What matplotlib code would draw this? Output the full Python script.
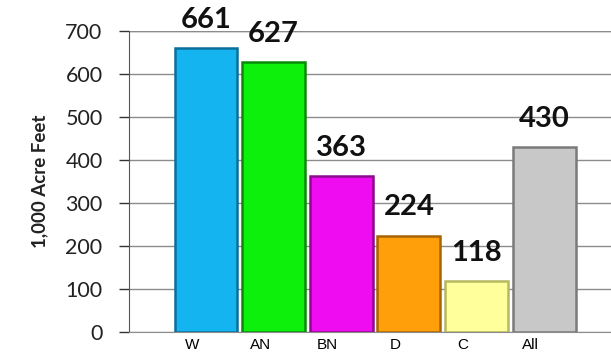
import numpy as np
import matplotlib.pyplot as plt

# Average annual volume by water year type
categories = ['W', 'AN', 'BN', 'D', 'C', 'All']
volumes = [661, 627, 363, 224, 118, 430]
bar_colors = ['#14b4f0', '#0cf00c', '#f00cf0', '#ffa00a', '#ffff9c', '#c8c8c8']
edge_colors = ['#0a6f99', '#0a8a0a', '#8c0a8c', '#a86400', '#b8b860', '#7a7a7a']

x = np.arange(len(categories))

fig = plt.figure(figsize=(6.11, 3.57), dpi=100)
ax = fig.add_axes([0.211, 0.070, 0.789, 0.843])

# horizontal grid behind the bars
ax.set_axisbelow(True)
ax.yaxis.grid(True, color='#8c8c8c', linewidth=1)

bars = ax.bar(x, volumes, width=0.93, color=bar_colors,
              edgecolor=edge_colors, linewidth=1.8)

for xi, v in zip(x, volumes):
    ax.annotate(str(v), (xi, v), xytext=(0, 11), textcoords='offset points',
                ha='center', va='bottom', fontsize=21, fontweight='bold',
                family='Lato', color='#111111')

ax.set_xlim(-1.14, 5.99)
ax.set_ylim(0, 700)
ax.set_yticks(range(0, 701, 100))
ax.tick_params(axis='y', length=7, width=1, color='#333333', pad=12,
               labelsize=15.5, labelcolor='#222222')
for lbl in ax.get_yticklabels():
    lbl.set_family('Lato')

ax.set_xticks(x - 0.2)
ax.set_xticklabels(categories, fontsize=11, family='Liberation Sans')
ax.tick_params(axis='x', length=0, pad=4)

ax.set_ylabel('1,000 Acre Feet', fontsize=13.5, family='Lato',
              fontweight='bold', labelpad=12, color='#222222')

for side in ['top', 'right']:
    ax.spines[side].set_visible(False)
ax.spines['left'].set_color('#555555')
ax.spines['bottom'].set_color('#8c8c8c')
ax.axhline(700, color='#8c8c8c', linewidth=1)

fig.savefig('out.png', dpi=100)
